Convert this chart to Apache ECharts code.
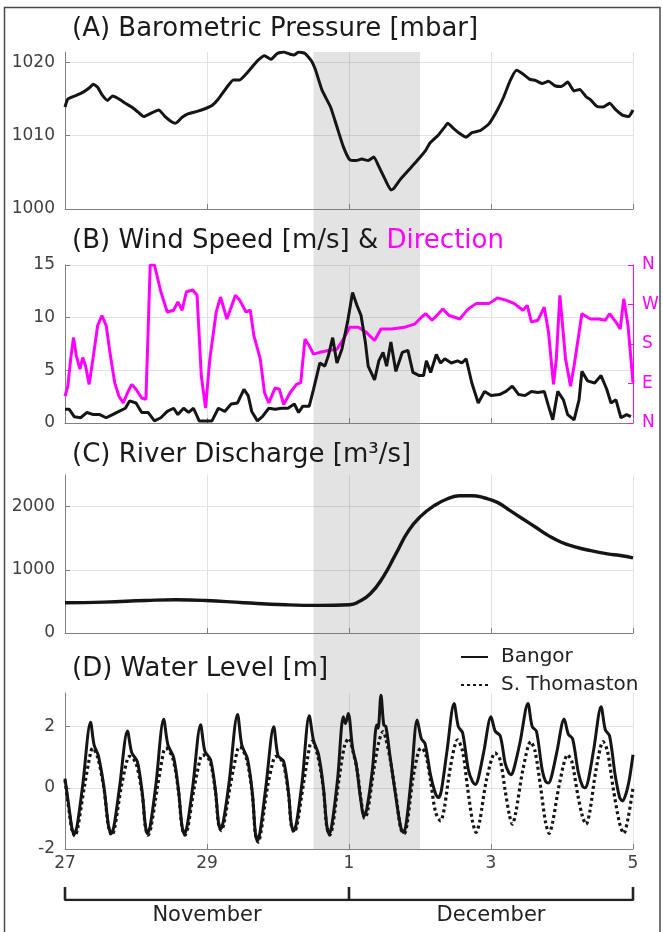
<!DOCTYPE html>
<html><head><meta charset="utf-8">
<script src="https://cdn.jsdelivr.net/npm/echarts@6/dist/echarts.min.js"></script>
<style>html,body{margin:0;padding:0;background:#fff}#c{width:663px;height:932px}</style>
</head><body><div id="c"></div>
<script>
// ---- time axis (days since 27 Nov 00:00) ----
const xTickLabels = ['27', '29', '1', '3', '5'];
const monthLabels = ['November', 'December'];
const monthEdges = [0, 4, 8];
const shadeSpan = [3.5, 5.0];
const dirTickLabels = ['N', 'E', 'S', 'W', 'N'];

// ---- (A) barometric pressure ----
const pressureDays = [0.00,0.04,0.16,0.25,0.34,0.40,0.46,0.52,0.60,0.67,
 0.76,0.85,0.94,1.03,1.11,1.20,1.32,1.41,1.50,1.56,
 1.65,1.74,1.86,1.98,2.07,2.16,2.28,2.37,2.46,2.55,
 2.63,2.72,2.81,2.90,2.99,3.08,3.17,3.23,3.29,3.38,
 3.47,3.53,3.62,3.74,3.83,3.92,4.01,4.10,4.18,4.27,
 4.35,4.42,4.51,4.59,4.63,4.72,4.84,4.96,5.08,5.14,
 5.26,5.35,5.39,5.47,5.56,5.65,5.73,5.85,5.97,6.09,
 6.18,6.27,6.36,6.45,6.54,6.63,6.72,6.81,6.90,6.99,
 7.08,7.17,7.25,7.34,7.40,7.49,7.58,7.67,7.76,7.85,
 7.94,8.00];
const pressureVals = [1013.9,1015.0,1015.5,1015.9,1016.5,1017.0,1016.6,1015.6,1014.8,1015.4,
 1015.0,1014.4,1013.9,1013.2,1012.6,1013.0,1013.5,1012.6,1011.9,1011.7,
 1012.5,1013.0,1013.3,1013.7,1014.1,1015.0,1016.6,1017.6,1017.6,1018.4,
 1019.3,1020.3,1020.9,1020.4,1021.2,1021.4,1021.1,1021.0,1021.4,1021.2,
 1020.2,1018.9,1016.2,1013.9,1011.2,1008.5,1006.7,1006.6,1006.8,1006.6,
 1007.1,1005.8,1004.0,1002.6,1002.8,1004.0,1005.3,1006.6,1008.0,1009.0,
 1010.1,1011.2,1011.7,1011.0,1010.3,1009.8,1010.4,1010.7,1011.6,1013.5,
 1015.3,1017.5,1018.9,1018.4,1017.7,1017.5,1017.1,1017.4,1016.8,1016.7,
 1017.3,1016.1,1016.3,1015.3,1014.9,1014.0,1013.9,1014.4,1013.5,1012.8,
 1012.6,1013.5];

// ---- (B) wind speed ----
const speedDays = [0.00,0.06,0.13,0.22,0.31,0.40,0.49,0.58,0.67,0.76,
 0.85,0.91,1.00,1.08,1.17,1.26,1.35,1.44,1.53,1.59,
 1.67,1.74,1.81,1.89,1.98,2.07,2.16,2.25,2.34,2.43,
 2.52,2.58,2.63,2.71,2.78,2.87,2.96,3.05,3.14,3.23,
 3.29,3.35,3.44,3.50,3.59,3.66,3.71,3.77,3.83,3.90,
 3.98,4.05,4.11,4.17,4.23,4.27,4.36,4.42,4.48,4.53,
 4.59,4.66,4.75,4.83,4.90,4.99,5.05,5.09,5.15,5.23,
 5.29,5.35,5.44,5.53,5.59,5.65,5.73,5.82,5.91,6.00,
 6.12,6.21,6.30,6.39,6.48,6.57,6.66,6.75,6.81,6.87,
 6.94,7.02,7.08,7.17,7.24,7.28,7.36,7.46,7.55,7.63,
 7.69,7.76,7.83,7.91,7.97];
const speedVals = [1.3,1.3,0.6,0.5,1.0,0.8,0.8,0.5,0.8,1.1,
 1.4,2.1,1.9,1.0,1.0,0.2,0.5,1.1,1.4,0.8,
 1.4,1.0,1.4,0.2,0.2,0.2,1.4,1.1,1.8,1.9,
 3.2,2.6,1.1,0.2,0.6,1.4,1.3,1.4,1.4,1.8,
 1.0,1.6,1.6,3.2,5.7,5.4,6.4,8.1,5.7,7.0,
 9.6,12.4,11.2,10.2,7.7,5.4,4.1,5.9,6.7,5.4,
 7.7,4.9,6.7,6.9,4.8,4.5,4.5,5.9,4.8,6.5,
 5.7,6.1,5.7,5.9,5.7,6.1,3.8,1.9,3.0,2.6,
 2.7,3.0,3.5,2.7,2.6,3.0,2.9,3.0,1.6,0.3,
 3.0,2.2,0.8,0.3,2.2,4.9,4.0,3.8,4.5,3.2,
 1.9,2.2,0.5,0.8,0.6];

// ---- (B) wind direction (degrees, N=0) ----
const dirDays = [0.00,0.04,0.08,0.12,0.16,0.21,0.25,0.29,0.34,0.40,
 0.46,0.52,0.58,0.64,0.70,0.76,0.82,0.88,0.94,1.00,
 1.08,1.14,1.20,1.26,1.35,1.44,1.53,1.59,1.65,1.71,
 1.80,1.86,1.92,1.98,2.04,2.13,2.19,2.28,2.34,2.40,
 2.46,2.55,2.61,2.66,2.75,2.81,2.87,2.96,3.02,3.08,
 3.17,3.26,3.32,3.38,3.44,3.50,3.59,3.71,3.83,3.92,
 4.01,4.13,4.24,4.36,4.45,4.60,4.78,4.93,5.02,5.08,
 5.17,5.26,5.32,5.41,5.56,5.68,5.79,5.97,6.09,6.21,
 6.33,6.45,6.51,6.57,6.66,6.75,6.81,6.88,6.92,6.97,
 7.05,7.12,7.17,7.28,7.40,7.52,7.61,7.67,7.76,7.82,
 7.87,7.93,8.00];
const dirVals = [61,84,146,195,153,123,149,130,88,153,
 222,245,222,153,92,61,46,69,88,77,
 57,54,360,360,299,253,257,276,257,299,
 303,291,107,34,146,253,287,237,264,291,
 280,253,257,199,146,69,46,80,77,42,
 69,88,92,191,176,157,161,165,168,191,
 218,218,207,188,214,214,218,226,241,249,
 234,249,260,245,237,260,272,272,285,280,
 272,257,268,230,234,264,207,88,146,291,
 146,84,130,249,237,237,234,249,230,214,
 283,222,92];

// ---- (C) river discharge ----
const dischargeDays = [0,0.55,1.14,1.56,1.98,2.52,3.11,3.59,4.01,4.13,4.30,4.48,4.66,4.84,5.02,5.20,5.38,5.56,5.73,5.91,6.09,6.27,6.45,6.63,6.81,6.99,7.17,7.40,7.64,7.82,8.00];
const dischargeVals = [479,489,515,526,515,479,447,437,447,489,620,884,1252,1620,1857,2015,2120,2172,2172,2136,2067,1936,1804,1673,1541,1436,1368,1304,1252,1226,1189];

// ---- (D) water level: Bangor ----
const bangorDays = [0.00,0.06,0.10,0.13,0.17,0.25,0.36,0.41,0.47,0.55,0.61,
 0.65,0.69,0.77,0.88,0.94,1.02,1.09,1.13,
 1.16,1.20,1.28,1.39,1.45,1.53,1.60,1.645,
 1.68,1.72,1.80,1.91,1.97,2.05,2.12,2.16,
 2.19,2.23,2.31,2.43,2.49,2.57,2.64,2.68,
 2.71,2.75,2.83,2.94,3.00,3.08,3.15,3.185,
 3.22,3.26,3.34,3.44,3.50,3.57,3.64,3.685,
 3.72,3.76,3.84,3.92,3.95,3.99,4.05,4.10,4.16,
 4.21,4.25,4.33,4.39,4.41,4.45,4.49,4.52,4.58,4.66,4.73,
 4.77,4.81,4.88,4.96,5.02,5.07,5.15,5.22,
 5.26,5.30,5.38,5.48,5.54,5.60,5.68,5.74,
 5.78,5.82,5.90,6.00,6.06,6.13,6.20,6.25,
 6.28,6.32,6.41,6.52,6.58,6.64,6.72,6.77,
 6.81,6.85,6.93,7.03,7.09,7.15,7.23,7.29,
 7.33,7.37,7.45,7.55,7.61,7.67,7.75,7.81,
 7.85,7.90,7.95,8.00];
const bangorVals = [0.30,-0.7,-1.35,-1.51,-1.25,0.10,2.14,1.40,1.05,0.0,-1.2,
 -1.50,-1.25,0.05,1.86,1.15,0.85,-0.2,-1.2,
 -1.50,-1.25,0.10,2.24,1.40,1.00,-0.1,-1.2,
 -1.51,-1.25,0.05,2.06,1.20,0.92,-0.1,-1.1,
 -1.35,-1.10,0.15,2.40,1.40,0.95,-0.2,-1.45,
 -1.73,-1.40,0.05,2.00,1.05,0.86,-0.2,-1.15,
 -1.41,-1.15,0.20,2.36,1.55,1.10,0.0,-1.2,
 -1.51,-1.20,0.30,2.32,2.10,2.43,1.3,0.8,-0.3,
 -0.92,-0.7,0.6,2.05,1.95,3.03,2.05,2.0,1.0,-0.3,-1.3,
 -1.46,-1.1,0.4,2.22,1.60,1.45,0.4,-0.2,
 -0.32,-0.1,1.2,2.76,2.0,1.8,0.6,0.2,
 0.11,0.3,1.2,2.32,1.85,1.70,0.8,0.5,
 0.43,0.6,1.5,2.76,2.0,1.85,0.6,0.2,
 0.16,0.35,1.2,2.25,1.75,1.60,0.5,0.05,
 0.00,0.25,1.3,2.65,1.9,1.7,0.4,-0.3,
 -0.43,-0.2,0.3,1.08];

// ---- (D) water level: S. Thomaston ----
const thomastonDays = [0.00,0.06,0.10,0.14,0.18,0.27,0.36,0.39,0.46,0.55,0.61,
 0.66,0.70,0.79,0.88,0.91,1.00,1.09,1.13,
 1.17,1.21,1.30,1.39,1.42,1.52,1.60,1.645,
 1.69,1.73,1.82,1.91,1.94,2.04,2.12,2.16,
 2.20,2.24,2.33,2.43,2.46,2.56,2.64,2.68,
 2.72,2.76,2.85,2.94,2.97,3.07,3.15,3.185,
 3.23,3.27,3.36,3.45,3.48,3.56,3.64,3.685,
 3.73,3.77,3.86,3.94,4.00,4.06,4.12,4.17,
 4.22,4.26,4.35,4.42,4.48,4.52,4.59,4.67,4.73,
 4.78,4.82,4.90,4.98,5.02,5.08,5.15,5.22,
 5.29,5.34,5.43,5.53,5.60,5.67,5.74,
 5.79,5.84,5.94,6.06,6.13,6.20,6.26,
 6.30,6.35,6.45,6.56,6.62,6.70,6.77,
 6.82,6.87,6.97,7.08,7.14,7.22,7.29,
 7.34,7.39,7.48,7.58,7.64,7.72,7.81,
 7.87,7.93,8.00];
const thomastonVals = [0.25,-0.8,-1.40,-1.58,-1.30,0.0,1.15,1.30,1.00,-0.05,-1.25,
 -1.55,-1.30,0.0,0.95,1.03,0.80,-0.25,-1.25,
 -1.55,-1.30,0.0,1.20,1.30,0.95,-0.15,-1.25,
 -1.55,-1.30,0.0,1.0,1.08,0.88,-0.15,-1.15,
 -1.40,-1.15,0.1,1.25,1.35,0.92,-0.25,-1.5,
 -1.78,-1.45,0.0,0.95,1.03,0.82,-0.25,-1.2,
 -1.45,-1.2,0.15,1.4,1.52,1.05,-0.05,-1.25,
 -1.55,-1.25,0.3,1.40,1.62,1.15,0.5,-0.4,
 -1.0,-0.8,0.6,1.5,1.84,1.6,0.8,-0.4,-1.35,
 -1.50,-1.15,0.3,1.2,1.30,1.1,0.2,-0.8,
 -1.08,-0.7,0.7,1.57,1.2,0.0,-1.1,
 -1.46,-1.1,0.3,1.14,0.9,-0.1,-0.9,
 -1.19,-0.8,0.6,1.51,1.2,0.0,-1.15,
 -1.49,-1.1,0.2,1.08,0.85,-0.2,-0.95,
 -1.19,-0.8,0.6,1.51,1.2,0.0,-1.15,
 -1.49,-1.0,0.0];

// ---------------- build chart ----------------
const zip = (a, b) => a.map((t, i) => [t, b[i]]);
const FONT = 'DejaVu Sans';
const TICK = '#404040', AX = '#808080', GRIDC = '#e2e2e2', MAG = '#ff00ff', INK = '#151515';
const L = 65, W = 568;

const grids = [
  {top: 52, height: 157},
  {top: 265, height: 158},
  {top: 475, height: 158},
  {top: 693, height: 156},
  {top: 52, height: 797},
  {top: 887, height: 13}
].map(g => Object.assign({left: L, width: W, containLabel: false, outerBoundsMode: 'none'}, g));

function xAx(i, showLabels) {
  return {
    type: 'value', gridIndex: i, min: 0, max: 8, interval: 2,
    axisLine: {show: true, onZero: false, lineStyle: {color: AX, width: 1}},
    axisTick: {show: true, inside: true, length: 5, lineStyle: {color: AX}},
    splitLine: {show: true, showMinLine: false, lineStyle: {color: GRIDC, width: 1}},
    axisLabel: {show: showLabels, formatter: v => xTickLabels[Math.round(v / 2)] || '',
      color: TICK, fontSize: 17, fontFamily: FONT, margin: 6}
  };
}
function yAx(i, min, max, interval, showMax) {
  return {
    type: 'value', gridIndex: i, min: min, max: max, interval: interval,
    axisLine: {show: true, lineStyle: {color: AX, width: 1}},
    axisTick: {show: true, inside: true, length: 5, lineStyle: {color: AX}},
    splitLine: {show: true, showMaxLine: showMax, lineStyle: {color: GRIDC, width: 1}},
    axisLabel: {showMaxLabel: showMax, color: TICK, fontSize: 17, fontFamily: FONT, margin: 10,
      formatter: v => String(Math.round(v * 100) / 100)}
  };
}

const xAxes = [xAx(0, false), xAx(1, false), xAx(2, false), xAx(3, true),
  {type: 'value', gridIndex: 4, min: 0, max: 8, show: false},
  {type: 'value', gridIndex: 5, min: 0, max: 8, interval: 2,
   axisLine: {show: false}, axisTick: {show: false}, splitLine: {show: false},
   axisLabel: {color: '#222', fontSize: 21, fontFamily: FONT, margin: 5,
     formatter: v => {
       for (let k = 0; k < monthLabels.length; k++) {
         if (Math.abs(v - (monthEdges[k] + monthEdges[k + 1]) / 2) < 1e-6) return monthLabels[k];
       }
       return '';
     }}}
];

const yAxes = [
  yAx(0, 1000, 1021.4, 10, false),
  yAx(1, 0, 15, 5, true),
  {type: 'value', gridIndex: 1, position: 'right', min: 0, max: 360, interval: 90,
   axisLine: {show: true, lineStyle: {color: MAG, width: 1}},
   axisTick: {show: true, inside: true, length: 5, lineStyle: {color: MAG}},
   splitLine: {show: false},
   axisLabel: {color: MAG, fontSize: 17, fontFamily: FONT, margin: 9,
     formatter: v => dirTickLabels[Math.round(v / 90)] || ''}},
  yAx(2, 0, 2500, 1000, false),
  yAx(3, -2, 3.1, 2, false),
  {type: 'value', gridIndex: 4, min: 0, max: 1, show: false},
  {type: 'value', gridIndex: 5, min: 0, max: 1, show: false}
];

const lineBase = {type: 'line', symbol: 'none', showSymbol: false, silent: true,
  itemStyle: {color: 'rgba(0,0,0,0)', borderWidth: 0}};
const series = [
  Object.assign({}, lineBase, {name: 'pressure', xAxisIndex: 0, yAxisIndex: 0,
    data: zip(pressureDays, pressureVals), smooth: 0.15, lineStyle: {color: INK, width: 3}}),
  Object.assign({}, lineBase, {name: 'direction', xAxisIndex: 1, yAxisIndex: 2,
    data: zip(dirDays, dirVals), lineStyle: {color: MAG, width: 3}}),
  Object.assign({}, lineBase, {name: 'speed', xAxisIndex: 1, yAxisIndex: 1,
    data: zip(speedDays, speedVals), lineStyle: {color: INK, width: 3}}),
  Object.assign({}, lineBase, {name: 'discharge', xAxisIndex: 2, yAxisIndex: 3,
    data: zip(dischargeDays, dischargeVals), smooth: 0.5, lineStyle: {color: INK, width: 3.4}}),
  Object.assign({}, lineBase, {name: 'Bangor', xAxisIndex: 3, yAxisIndex: 4,
    data: zip(bangorDays, bangorVals), smooth: 0.3, lineStyle: {color: INK, width: 3}}),
  Object.assign({}, lineBase, {name: 'S. Thomaston', xAxisIndex: 3, yAxisIndex: 4,
    data: zip(thomastonDays, thomastonVals), smooth: 0.3, lineStyle: {color: INK, width: 3.2, type: [3, 3]}}),
  Object.assign({}, lineBase, {name: 'shade', xAxisIndex: 4, yAxisIndex: 5, data: [], z: 3,
    markArea: {silent: true, itemStyle: {color: 'rgba(115,115,115,0.2)'},
      data: [[{xAxis: shadeSpan[0]}, {xAxis: shadeSpan[1]}]]}})
];
// month bracket, built from month edges
const first = monthEdges[0], last = monthEdges[monthEdges.length - 1];
series.push(Object.assign({}, lineBase, {name: 'bracket', xAxisIndex: 5, yAxisIndex: 6,
  data: [[first, 1], [first, 0], [last, 0], [last, 1]], lineStyle: {color: '#222', width: 2.6}}));
monthEdges.slice(1, -1).forEach(e => {
  series.push(Object.assign({}, lineBase, {name: 'bracket' + e, xAxisIndex: 5, yAxisIndex: 6,
    data: [[e, 0], [e, 1]], lineStyle: {color: '#222', width: 2.6}}));
});

const tStyle = {fontSize: 26, fontWeight: 'normal', fontFamily: FONT, color: '#1a1a1a'};
const option = {
  animation: false,
  backgroundColor: '#ffffff',
  grid: grids, xAxis: xAxes, yAxis: yAxes, series: series,
  title: [
    {text: '(A) Barometric Pressure [mbar]', left: 72, top: 16, padding: 0, textStyle: tStyle},
    {text: '{k|(B) Wind Speed [m/s] &} {m|Direction}', left: 72, top: 228, padding: 0,
     textStyle: Object.assign({}, tStyle, {rich: {
       k: {fontSize: 26, fontFamily: FONT, color: '#1a1a1a'},
       m: {fontSize: 26, fontFamily: FONT, color: MAG}}})},
    {text: '(C) River Discharge [m³/s]', left: 72, top: 442, padding: 0, textStyle: tStyle},
    {text: '(D) Water Level [m]', left: 72, top: 656, padding: 0, textStyle: tStyle}
  ],
  legend: {
    data: ['Bangor', 'S. Thomaston'], orient: 'vertical', left: 460, top: 647,
    itemWidth: 27, itemHeight: 14, itemGap: 8, padding: 0,
    itemStyle: {opacity: 0},
    textStyle: {fontSize: 20, fontFamily: FONT, color: '#222', padding: [0, 0, 0, 8], lineHeight: 20}
  },
  graphic: [{type: 'rect', silent: true, shape: {x: 4.5, y: 7.5, width: 655.5, height: 940},
    style: {fill: null, stroke: '#4a4a4a', lineWidth: 1.5}}]
};
const chart = echarts.init(document.getElementById('c'), null, {renderer: 'canvas'});
chart.setOption(option);
</script>
</body></html>
